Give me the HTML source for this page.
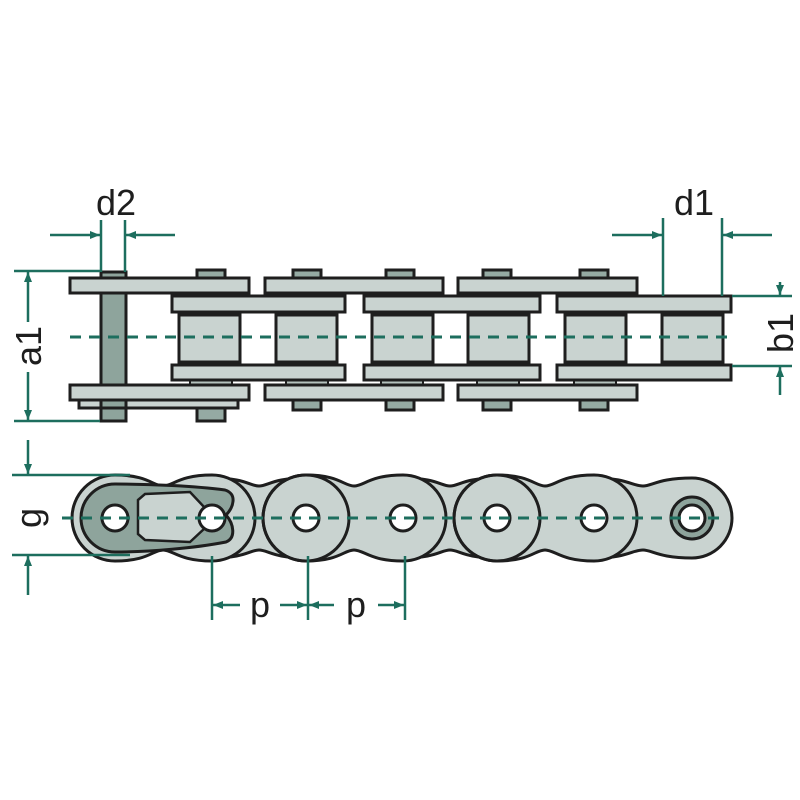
<!DOCTYPE html>
<html><head><meta charset="utf-8"><style>html,body{margin:0;padding:0;background:#fff}svg{display:block}</style></head>
<body>
<svg width="800" height="800" viewBox="0 0 800 800" xmlns="http://www.w3.org/2000/svg">
<defs>
<marker id="ah" viewBox="0 0 10 10" refX="10" refY="5" markerWidth="10" markerHeight="10" markerUnits="userSpaceOnUse" orient="auto"><path d="M0,1 L10,5 L0,9 z" fill="#1d6e5e"/></marker>
</defs>
<g fill="#c9d3d0" stroke="#1e1e1e" stroke-width="3">
<rect x="197" y="270" width="28" height="10" fill="#95aaa3"/>
<rect x="293" y="270" width="28" height="10" fill="#95aaa3"/>
<rect x="386" y="270" width="28" height="10" fill="#95aaa3"/>
<rect x="483" y="270" width="28" height="10" fill="#95aaa3"/>
<rect x="580" y="270" width="28" height="10" fill="#95aaa3"/>
<rect x="197" y="406" width="28" height="15" fill="#95aaa3"/>
<rect x="293" y="398" width="28" height="12" fill="#95aaa3"/>
<rect x="386" y="398" width="28" height="12" fill="#95aaa3"/>
<rect x="483" y="398" width="28" height="12" fill="#95aaa3"/>
<rect x="580" y="398" width="28" height="12" fill="#95aaa3"/>
<g fill="#b5c2be" stroke-width="2">
<rect x="190" y="292" width="42" height="6"/><rect x="286" y="292" width="42" height="6"/><rect x="381" y="292" width="42" height="6"/><rect x="477" y="292" width="42" height="6"/><rect x="574" y="292" width="42" height="6"/>
<rect x="190" y="378" width="42" height="8"/><rect x="286" y="378" width="42" height="8"/><rect x="381" y="378" width="42" height="8"/><rect x="477" y="378" width="42" height="8"/><rect x="574" y="378" width="42" height="8"/>
<rect x="186" y="310" width="48" height="7"/><rect x="283" y="310" width="48" height="7"/><rect x="380" y="310" width="48" height="7"/><rect x="474" y="310" width="48" height="7"/><rect x="572" y="310" width="48" height="7"/><rect x="668" y="310" width="48" height="7"/>
<rect x="186" y="360" width="48" height="7"/><rect x="283" y="360" width="48" height="7"/><rect x="380" y="360" width="48" height="7"/><rect x="474" y="360" width="48" height="7"/><rect x="572" y="360" width="48" height="7"/><rect x="668" y="360" width="48" height="7"/>
</g>
<rect x="179" y="315" width="61" height="47"/>
<rect x="276" y="315" width="61" height="47"/>
<rect x="372" y="315" width="61" height="47"/>
<rect x="468" y="315" width="61" height="47"/>
<rect x="565" y="315" width="61" height="47"/>
<rect x="662" y="315" width="61" height="47"/>
<rect x="172" y="296" width="173" height="16"/>
<rect x="364" y="296" width="176" height="16"/>
<rect x="557" y="296" width="174" height="16"/>
<rect x="172" y="365" width="173" height="15"/>
<rect x="364" y="365" width="176" height="15"/>
<rect x="557" y="365" width="174" height="15"/>
<rect x="79" y="399" width="159" height="9"/>
<rect x="265" y="278" width="178" height="15"/>
<rect x="458" y="278" width="179" height="15"/>
<rect x="265" y="385" width="178" height="15"/>
<rect x="458" y="385" width="179" height="15"/>
<rect x="101" y="272" width="25" height="149" fill="#8ea49c"/>
<rect x="70" y="278" width="179" height="15"/>
<rect x="70" y="385" width="179" height="15"/>
<rect x="101" y="272" width="25" height="6" fill="#8ea49c"/>
<rect x="101" y="293" width="25" height="92" fill="#8ea49c"/>
<rect x="101" y="408" width="25" height="13" fill="#8ea49c"/>
</g>
<line x1="70" y1="337" x2="735" y2="337" stroke="#1d6e5e" stroke-width="3" stroke-dasharray="11,8"/>

<g stroke="#1e1e1e" stroke-width="3" fill="#c9d3d0">
<path d="M212,478 C245,478 250,486 259,486 C268,486 273,478 306,478 A40,40 0 0 1 306,558 C273,558 268,550 259,550 C250,550 245,558 212,558 A40,40 0 0 1 212,478 Z"/>
<path d="M403,478 C436,478 441,486 450,486 C459,486 464,478 497,478 A40,40 0 0 1 497,558 C464,558 459,550 450,550 C441,550 436,558 403,558 A40,40 0 0 1 403,478 Z"/>
<path d="M594,478 C627,478 632,486 643,486 C652,486 659,478 692,478 A40,40 0 0 1 692,558 C659,558 652,550 643,550 C632,550 627,558 594,558 A40,40 0 0 1 594,478 Z"/>
<path d="M306,475 C339,475 344,486 354,486 C364,486 370,475 403,475 A43,43 0 0 1 403,561 C370,561 364,550 354,550 C344,550 339,561 306,561 A43,43 0 0 1 306,475 Z"/>
<path d="M497,475 C530,475 535,486 545,486 C555,486 561,475 594,475 A43,43 0 0 1 594,561 C561,561 555,550 545,550 C535,550 530,561 497,561 A43,43 0 0 1 497,475 Z"/>
<circle cx="306" cy="518" r="43" fill="none"/>
<circle cx="497" cy="518" r="43" fill="none"/>
<path d="M115,475 C148,475 153,486 163,486 C173,486 179,475 212,475 A43,43 0 0 1 212,561 C179,561 173,550 163,550 C153,550 148,561 115,561 A43,43 0 0 1 115,475 Z"/>
<path d="M115,484 C150,484 195,486 225,490 C238,494 233,508 226,515 C234,524 236,538 226,542 C195,548 150,552 115,552 A34,34 0 0 1 115,484 Z" fill="#8ea49c"/>
<path d="M138,500 L145,494 L190,492 L205,508 L205,528 L190,542 L145,540 L138,534 Z" fill="#c9d3d0" stroke-width="2.5"/>
<circle cx="692" cy="518" r="21" fill="#8ea49c"/>
</g>
<g fill="#fff" stroke="#1e1e1e" stroke-width="3">
<circle cx="115" cy="518" r="13"/><circle cx="212" cy="518" r="13"/><circle cx="306" cy="518" r="13"/><circle cx="403" cy="518" r="13"/><circle cx="497" cy="518" r="13"/><circle cx="594" cy="518" r="13"/><circle cx="692" cy="518" r="13"/>
</g>
<line x1="62" y1="518" x2="720" y2="518" stroke="#1d6e5e" stroke-width="3" stroke-dasharray="11,8"/>

<g stroke="#1d6e5e" stroke-width="2.5" fill="none">
<line x1="101" y1="220" x2="101" y2="272"/><line x1="125" y1="220" x2="125" y2="272"/>
<line x1="50" y1="235" x2="100" y2="235" marker-end="url(#ah)"/><line x1="175" y1="235" x2="126" y2="235" marker-end="url(#ah)"/>
<line x1="663" y1="218" x2="663" y2="296"/><line x1="722" y1="218" x2="722" y2="296"/>
<line x1="612" y1="235" x2="662" y2="235" marker-end="url(#ah)"/><line x1="772" y1="235" x2="723" y2="235" marker-end="url(#ah)"/>
<line x1="14" y1="271" x2="100" y2="271"/><line x1="14" y1="421" x2="100" y2="421"/>
<line x1="28" y1="322" x2="28" y2="272" marker-end="url(#ah)"/><line x1="28" y1="372" x2="28" y2="420" marker-end="url(#ah)"/>
<line x1="732" y1="296" x2="792" y2="296"/><line x1="732" y1="366" x2="792" y2="366"/>
<line x1="780" y1="282" x2="780" y2="295" marker-end="url(#ah)"/><line x1="780" y1="395" x2="780" y2="367" marker-end="url(#ah)"/>
<line x1="12" y1="475" x2="130" y2="475"/><line x1="12" y1="555" x2="130" y2="555"/>
<line x1="28" y1="440" x2="28" y2="474" marker-end="url(#ah)"/><line x1="28" y1="595" x2="28" y2="556" marker-end="url(#ah)"/>
<line x1="212" y1="556" x2="212" y2="620"/><line x1="308" y1="556" x2="308" y2="620"/><line x1="405" y1="556" x2="405" y2="620"/>
<line x1="240" y1="605" x2="213" y2="605" marker-end="url(#ah)"/><line x1="280" y1="605" x2="307" y2="605" marker-end="url(#ah)"/>
<line x1="334" y1="605" x2="309" y2="605" marker-end="url(#ah)"/><line x1="378" y1="605" x2="404" y2="605" marker-end="url(#ah)"/>
</g>
<g font-family="Liberation Sans, sans-serif" font-size="36" fill="#1e1e1e" text-anchor="middle">
<text x="116" y="215">d2</text>
<text x="694" y="215">d1</text>
<text x="260" y="617">p</text>
<text x="356" y="617">p</text>
<text transform="translate(41,346) rotate(-90)">a1</text>
<text transform="translate(793,333) rotate(-90)">b1</text>
<text transform="translate(41,518) rotate(-90)">g</text>
</g>
</svg>
</body></html>
